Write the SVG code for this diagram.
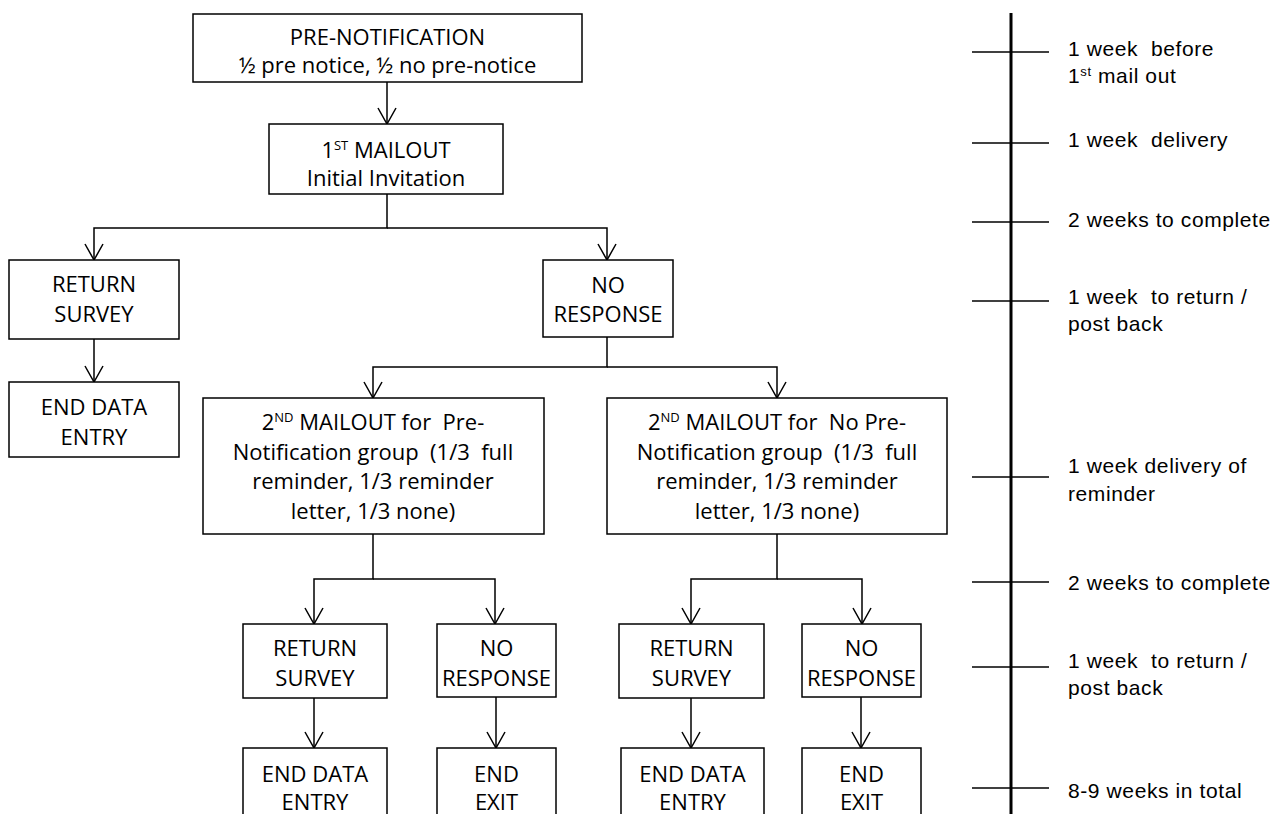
<svg xmlns="http://www.w3.org/2000/svg" width="1287" height="814" viewBox="0 0 1287 814">
<style>
.box{fill:#fff;stroke:#000;stroke-width:1.5}
.t{font-family:"Open Sans","Liberation Sans",sans-serif;font-size:22px;fill:#000;text-anchor:middle;white-space:pre}
.c{fill:none;stroke:#000;stroke-width:1.5}
.tick{stroke:#000;stroke-width:1.5}
.tl{font-family:"Liberation Sans",Arial,sans-serif;font-size:21px;fill:#000;letter-spacing:0.6px;white-space:pre}
.sup{font-size:13px}
</style>
<defs>
<marker id="arr" viewBox="0 0 18 20" refX="17" refY="10" markerWidth="18" markerHeight="20" markerUnits="userSpaceOnUse" orient="auto">
<path d="M1,1 L17,10 L1,19" fill="none" stroke="#000" stroke-width="1.5"/>
</marker>
</defs>
<rect width="1287" height="814" fill="#fff"/>
<g id="connectors">
<path class="c" d="M387,82 V124" marker-end="url(#arr)"/>
<path class="c" d="M387,194 V228 H94 V260" marker-end="url(#arr)"/>
<path class="c" d="M387,228 H607 V260" marker-end="url(#arr)"/>
<path class="c" d="M94,339 V382" marker-end="url(#arr)"/>
<path class="c" d="M607,337 V367 H373 V398" marker-end="url(#arr)"/>
<path class="c" d="M607,367 H777 V398" marker-end="url(#arr)"/>
<path class="c" d="M373,534 V579 H314 V624" marker-end="url(#arr)"/>
<path class="c" d="M373,579 H495 V624" marker-end="url(#arr)"/>
<path class="c" d="M777,534 V579 H691 V624" marker-end="url(#arr)"/>
<path class="c" d="M777,579 H862 V624" marker-end="url(#arr)"/>
<path class="c" d="M314,698 V748" marker-end="url(#arr)"/>
<path class="c" d="M496,697 V748" marker-end="url(#arr)"/>
<path class="c" d="M691,698 V748" marker-end="url(#arr)"/>
<path class="c" d="M861,697 V748" marker-end="url(#arr)"/>
</g>
<g id="pre-notification">
<rect class="box" x="193" y="14" width="389" height="68"/>
<text class="t" x="387.5" y="45">PRE-NOTIFICATION</text>
<text class="t" x="387.5" y="73">½ pre notice, ½ no pre-notice</text>
</g>
<g id="first-mailout">
<rect class="box" x="269" y="124" width="234" height="70"/>
<text class="t" x="386" y="158">1<tspan class="sup" dy="-8">ST</tspan><tspan dy="8"> MAILOUT</tspan></text>
<text class="t" x="386" y="186">Initial Invitation</text>
</g>
<g id="return-survey-1">
<rect class="box" x="9" y="260" width="170" height="79"/>
<text class="t" x="94" y="292">RETURN</text>
<text class="t" x="94" y="322">SURVEY</text>
</g>
<g id="end-data-entry-1">
<rect class="box" x="9" y="382" width="170" height="75"/>
<text class="t" x="94" y="415">END DATA</text>
<text class="t" x="94" y="445">ENTRY</text>
</g>
<g id="no-response-1">
<rect class="box" x="543" y="260" width="130" height="77"/>
<text class="t" x="608" y="293">NO</text>
<text class="t" x="608" y="322">RESPONSE</text>
</g>
<g id="second-mailout-pre">
<rect class="box" x="203" y="398" width="341" height="136"/>
<text class="t" x="373" y="430">2<tspan class="sup" dy="-8">ND</tspan><tspan dy="8"> MAILOUT for  Pre-</tspan></text>
<text class="t" x="373" y="459.5">Notification group  (1/3  full</text>
<text class="t" x="373" y="489">reminder, 1/3 reminder</text>
<text class="t" x="373" y="519">letter, 1/3 none)</text>
</g>
<g id="second-mailout-nopre">
<rect class="box" x="607" y="398" width="340" height="136"/>
<text class="t" x="777" y="430">2<tspan class="sup" dy="-8">ND</tspan><tspan dy="8"> MAILOUT for  No Pre-</tspan></text>
<text class="t" x="777" y="459.5">Notification group  (1/3  full</text>
<text class="t" x="777" y="489">reminder, 1/3 reminder</text>
<text class="t" x="777" y="519">letter, 1/3 none)</text>
</g>
<g id="return-survey-2">
<rect class="box" x="243" y="624" width="144" height="74"/>
<text class="t" x="315" y="656">RETURN</text>
<text class="t" x="315" y="686">SURVEY</text>
</g>
<g id="no-response-2">
<rect class="box" x="437" y="624" width="119" height="73"/>
<text class="t" x="496.5" y="656">NO</text>
<text class="t" x="496.5" y="686">RESPONSE</text>
</g>
<g id="return-survey-3">
<rect class="box" x="619" y="624" width="145" height="74"/>
<text class="t" x="691.5" y="656">RETURN</text>
<text class="t" x="691.5" y="686">SURVEY</text>
</g>
<g id="no-response-3">
<rect class="box" x="802" y="624" width="119" height="73"/>
<text class="t" x="861.5" y="656">NO</text>
<text class="t" x="861.5" y="686">RESPONSE</text>
</g>
<g id="end-data-entry-2">
<rect class="box" x="243" y="748" width="144" height="72"/>
<text class="t" x="315" y="782">END DATA</text>
<text class="t" x="315" y="810">ENTRY</text>
</g>
<g id="end-exit-2">
<rect class="box" x="437" y="748" width="119" height="72"/>
<text class="t" x="496.5" y="782">END</text>
<text class="t" x="496.5" y="810">EXIT</text>
</g>
<g id="end-data-entry-3">
<rect class="box" x="621" y="748" width="143" height="72"/>
<text class="t" x="692.5" y="782">END DATA</text>
<text class="t" x="692.5" y="810">ENTRY</text>
</g>
<g id="end-exit-3">
<rect class="box" x="802" y="748" width="119" height="72"/>
<text class="t" x="861.5" y="782">END</text>
<text class="t" x="861.5" y="810">EXIT</text>
</g>
<g id="timeline">
<line x1="1011" y1="13" x2="1011" y2="814" stroke="#000" stroke-width="3"/>
<line class="tick" x1="972" y1="52" x2="1049" y2="52"/>
<line class="tick" x1="972" y1="143" x2="1049" y2="143"/>
<line class="tick" x1="972" y1="222" x2="1049" y2="222"/>
<line class="tick" x1="972" y1="301" x2="1049" y2="301"/>
<line class="tick" x1="972" y1="477" x2="1049" y2="477"/>
<line class="tick" x1="972" y1="582" x2="1049" y2="582"/>
<line class="tick" x1="972" y1="667" x2="1049" y2="667"/>
<line class="tick" x1="972" y1="788" x2="1049" y2="788"/>
<text class="tl" x="1068" y="56">1 week  before</text>
<text class="tl" x="1068" y="83">1<tspan class="sup" dy="-7">st</tspan><tspan dy="7"> mail out</tspan></text>
<text class="tl" x="1068" y="147">1 week  delivery</text>
<text class="tl" x="1068" y="227">2 weeks to complete</text>
<text class="tl" x="1068" y="304">1 week  to return /</text>
<text class="tl" x="1068" y="331">post back</text>
<text class="tl" x="1068" y="473">1 week delivery of</text>
<text class="tl" x="1068" y="501">reminder</text>
<text class="tl" x="1068" y="590">2 weeks to complete</text>
<text class="tl" x="1068" y="668">1 week  to return /</text>
<text class="tl" x="1068" y="695">post back</text>
<text class="tl" x="1068" y="798">8-9 weeks in total</text>
</g>
</svg>
